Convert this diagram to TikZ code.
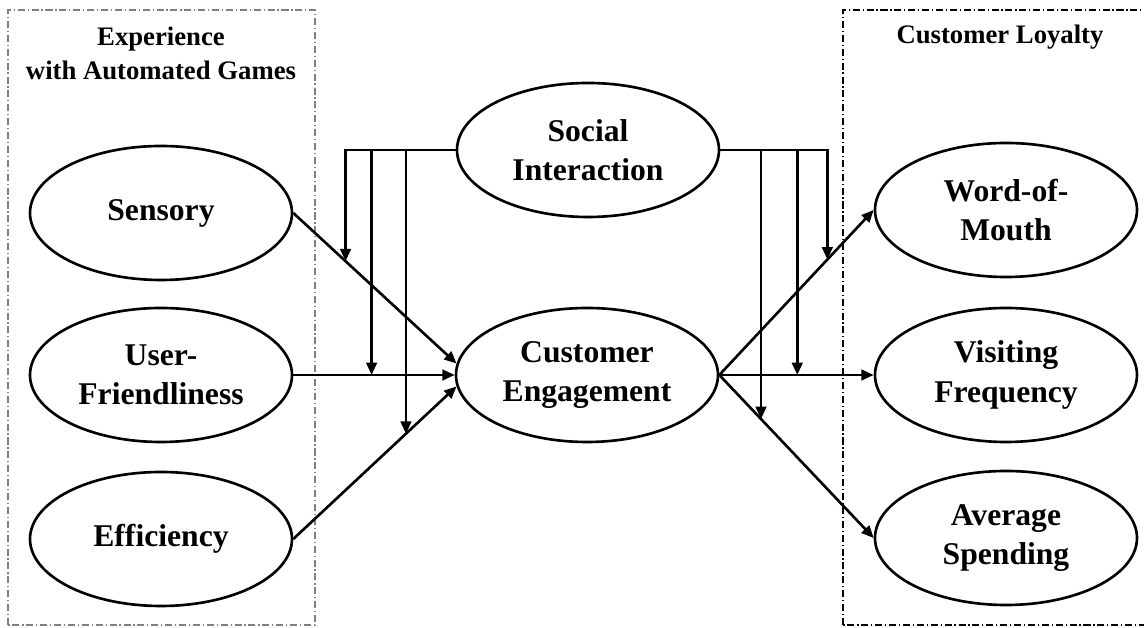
\documentclass[tikz,border=0pt]{standalone}
\usepackage{fontspec}
\setmainfont{Liberation Serif}
\usetikzlibrary{arrows.meta,positioning,calc,shapes}

\begin{document}
\begin{tikzpicture}[
    every node/.style={font=\bfseries},
    construct/.style={ellipse, draw, line width=1.5pt, inner sep=0pt, minimum width=5.24cm, minimum height=2.68cm, align=center, font=\fontsize{18}{22.5}\selectfont\bfseries},
    heading/.style={align=center, font=\fontsize{15.2}{19.3}\selectfont\bfseries},
    group/.style={line width=0.6pt, dash pattern=on 4pt off 1.6pt on 0.7pt off 1.6pt},
    path/.style={line width=1.5pt, -{Triangle[length=7pt,width=6pt]}},
]
    \useasboundingbox (0,0) rectangle (22.88,12.56);

    % Groups
    \draw[group, gray] (0.16,0.06) rectangle (6.30,12.36);
    \draw[group] (16.86,0.06) rectangle (23.00,12.36);
    \node[heading] (expTitle) at (3.22,11.50) {Experience\\with Automated Games};
    \node[heading] (loyTitle) at (20.00,11.82) {Customer Loyalty};

    % Experience with automated games
    \node[construct] (sens) at (3.22,8.30) {Sensory};
    \node[construct] (uf) at (3.22,5.06) {User-\\Friendliness};
    \node[construct] (eff) at (3.22,1.78) {Efficiency};

    % Moderator and mediator
    \node[construct] (si) at (11.76,9.56) {Social\\Interaction};
    \node[construct] (ce) at (11.74,5.06) {Customer\\Engagement};

    % Customer loyalty
    \node[construct] (wom) at (20.12,8.36) {Word-of-\\Mouth};
    \node[construct] (vf) at (20.12,5.06) {Visiting\\Frequency};
    \node[construct] (avg) at (20.12,1.80) {Average\\Spending};

    % Direct paths
    \draw[path] (sens.east) -- (ce.175);
    \draw[path] (uf.east) -- (ce.west);
    \draw[path] (eff.east) -- (ce.185);
    \draw[path] (ce.east) -- (wom.west);
    \draw[path] (ce.east) -- (vf.west);
    \draw[path] (ce.east) -- (avg.west);

    % Moderating paths of social interaction
    \draw[path] (si.west) -| ($(sens.east)!0.32!(ce.175)$);
    \draw[path] (si.west) -| ($(uf.east)!0.485!(ce.west)$);
    \draw[path] (si.west) -| ($(eff.east)!0.69!(ce.185)$);
    \draw[path] (si.east) -| ($(ce.east)!0.70!(wom.west)$);
    \draw[path] (si.east) -| ($(ce.east)!0.505!(vf.west)$);
    \draw[path] (si.east) -| ($(ce.east)!0.27!(avg.west)$);
\end{tikzpicture}
\end{document}
